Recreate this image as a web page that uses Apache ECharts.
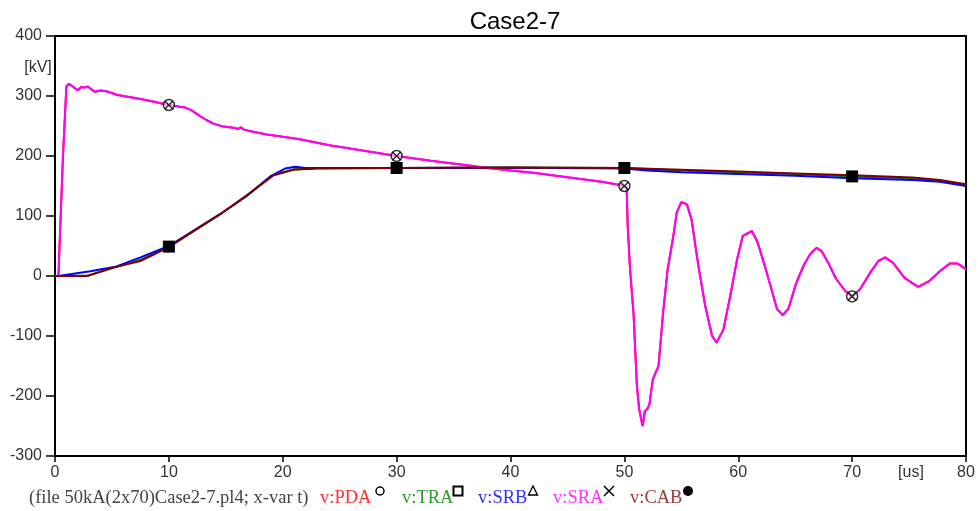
<!DOCTYPE html>
<html><head><meta charset="utf-8">
<script src="https://cdn.jsdelivr.net/npm/echarts@6/dist/echarts.min.js"></script>
<style>html,body{margin:0;padding:0;background:#fff}#c{width:978px;height:511px}</style>
</head><body><div id="c"></div>
<script>
// ---- data (t in us, v in kV) ----
const title = 'Case2-7';
const xTicks = [0, 10, 20, 30, 40, 50, 60, 70, 80];
const yTicks = [-300, -200, -100, 0, 100, 200, 300, 400];

const sra = [
[0,0],[0.3,0],[0.7,200],[1.0,316],[1.2,320],[1.5,317],[1.8,312],[2.0,310],[2.3,315],[2.6,314],[2.9,316],[3.2,311],[3.5,307],[4.0,309],[4.5,308],[5.0,305],[5.4,302],[6.0,300],[6.9,297],[7.5,295],[8.3,292],[9.0,289],[10,285],[11.4,281],[12.0,276],[12.7,267],[13.3,260],[13.9,254],[14.8,249],[15.7,247],[16.1,245],[16.3,248],[16.6,244],[17.5,240],[18.6,236],[20,232],[21.5,228],[24.1,218],[27,209],[30,200],[33,192],[36,185],[38,180],[40,176],[42,172],[44,167],[46,162],[48,157],[49.5,152],[50.0,150],[50.2,148],[50.3,80],[50.5,11],[50.8,-61],[51.1,-183],[51.3,-222],[51.6,-250],[51.8,-225],[52.0,-222],[52.2,-214],[52.5,-172],[53.0,-150],[53.4,-61],[53.8,11],[54.3,67],[54.6,106],[55.0,123],[55.3,121],[55.5,119],[55.9,94],[56.5,17],[57.1,-50],[57.7,-100],[58.1,-111],[58.7,-89],[59.3,-33],[59.9,28],[60.4,67],[61.2,75],[61.7,56],[62.5,6],[63.4,-55],[63.9,-65],[64.4,-55],[65.1,-11],[65.8,20],[66.3,36],[66.6,42],[66.9,47],[67.1,44],[67.3,42],[67.9,22],[68.6,-5],[69.4,-25],[70.0,-34],[70.7,-22],[71.6,6],[72.3,25],[72.9,31],[73.6,22],[74.6,-3],[75.8,-18],[76.8,-8],[77.7,8],[78.6,21],[79.2,21],[79.5,18],[80,11]
];
const pda = sra; // v:PDA coincides with v:SRA (fully hidden behind it)
const tra = [[0,0],[0.3,0],[3,1],[5.2,14],[7.5,27],[10,49],[12.1,74],[14.5,103],[16.8,133],[19,167],[21,178],[23,179.5],[30,180],[40,181],[50,180],[55,176],[60,173],[65,170],[70,166],[75.3,163],[77.7,159],[80,152]];
const srb = [[0,0],[0.3,0],[3.1,8],[5.4,16],[7.5,31],[10,50],[12.1,75],[14.5,103],[16.8,133],[18.9,166],[20.2,179],[21.1,182],[22,180],[23,180],[30,180],[40,180.5],[50,179],[52,176],[55,173],[60,170],[65,167],[70,163],[75.3,160],[77.7,157],[80,150]];
const cab = [[0,0],[0.3,0],[2.8,0],[5.1,14],[7.5,25],[10,48],[12.1,74],[14.5,103],[16.8,134],[19.2,168],[20.9,177],[23,179],[30,180],[40,181],[50,180],[55,177],[60,174],[65,171],[70,168],[75.3,164],[77.7,160],[80,153]];

const sraMarks = [[10,285],[30,200],[50,150],[70,-34]];
const cabMarks = [[10,49],[30,180],[50,180],[70,166]];

const legendItems = [
  {name:'v:PDA', color:'#ff3030'},
  {name:'v:TRA', color:'#2e9a2e'},
  {name:'v:SRB', color:'#3030ff'},
  {name:'v:SRA', color:'#ff30ff'},
  {name:'v:CAB', color:'#9a3a3a'}
];
const fileLabel = '(file 50kA(2x70)Case2-7.pl4; x-var t)';

// ---- chart ----
const chart = echarts.init(document.getElementById('c'));
const lineS = (name, data, color, w) => ({
  type:'line', name, data, showSymbol:false, symbol:'none', animation:false,
  lineStyle:{color, width:w}, itemStyle:{color}, z:2
});
const lx = [320, 402, 478, 553, 630];
const symX = [380, 458, 533, 609, 688];
const serif = '18.5px "Liberation Serif", "Times New Roman", serif';
const graphics = [
  {type:'text', x:38, y:68, style:{text:'[kV]', font:'16px Arial', fill:'#333', align:'center', verticalAlign:'middle'}},
  {type:'text', x:911, y:473, style:{text:'[us]', font:'16px Arial', fill:'#333', align:'center', verticalAlign:'middle'}},
  {type:'text', x:29, y:498, style:{text:fileLabel, font:serif, fill:'#444', verticalAlign:'middle'}}
];
legendItems.forEach((it,i)=>{
  graphics.push({type:'text', x:lx[i], y:498, style:{text:it.name, font:serif, fill:it.color, verticalAlign:'middle'}});
});
const sy = 491;
graphics.push({type:'circle', shape:{cx:symX[0], cy:sy, r:4}, style:{fill:'none', stroke:'#000', lineWidth:1.5}});
graphics.push({type:'rect', shape:{x:symX[1]-4.5, y:sy-4.5, width:9, height:9}, style:{fill:'none', stroke:'#000', lineWidth:2}});
graphics.push({type:'polygon', shape:{points:[[symX[2],sy-5],[symX[2]-4.5,sy+4],[symX[2]+4.5,sy+4]]}, style:{fill:'none', stroke:'#000', lineWidth:1.3}});
graphics.push({type:'polyline', shape:{points:[[symX[3]-5,sy-5],[symX[3]+5,sy+5]]}, style:{stroke:'#000', lineWidth:1.5}});
graphics.push({type:'polyline', shape:{points:[[symX[3]+5,sy-5],[symX[3]-5,sy+5]]}, style:{stroke:'#000', lineWidth:1.5}});
graphics.push({type:'circle', shape:{cx:symX[4], cy:sy, r:5}, style:{fill:'#000'}});

chart.setOption({
  animation:false,
  title:{text:title, left:510, top:5, textAlign:'center', textStyle:{fontFamily:'Arial', fontSize:24, fontWeight:'normal', color:'#000'}},
  grid:{left:55, right:12, top:36, bottom:55, show:true, borderColor:'#000', borderWidth:2, backgroundColor:'#fff'},
  xAxis:{type:'value', min:xTicks[0], max:xTicks[xTicks.length-1], interval:10,
    axisLine:{onZero:false, lineStyle:{color:'#000', width:2}}, axisTick:{show:true, length:6, lineStyle:{color:'#000', width:1.5}},
    axisLabel:{color:'#333', fontFamily:'Arial', fontSize:16, margin:9}, splitLine:{show:false}},
  yAxis:{type:'value', min:yTicks[0], max:yTicks[yTicks.length-1], interval:100,
    axisLine:{show:true, onZero:false, lineStyle:{color:'#000', width:2}}, axisTick:{show:true, length:9, lineStyle:{color:'#000', width:1.5}},
    axisLabel:{color:'#333', fontFamily:'Arial', fontSize:16, margin:13}, splitLine:{show:false}},
  graphic:graphics,
  series:[
    lineS('v:PDA', pda, '#ff0000', 2),
    lineS('v:TRA', tra, '#008000', 2),
    lineS('v:SRB', srb, '#0000ff', 2),
    lineS('v:SRA', sra, '#ff00ff', 2),
    lineS('v:CAB', cab, '#800000', 2),
    {type:'scatter', data:sraMarks, symbol:'circle', symbolSize:11, animation:false, z:5,
      itemStyle:{color:'rgba(255,255,255,0.7)', borderColor:'#000', borderWidth:1.5}},
    {type:'scatter', data:sraMarks, symbol:'path://M0,0L10,10M10,0L0,10', symbolSize:8, animation:false, z:6,
      itemStyle:{color:'none', borderColor:'#000', borderWidth:1.5}},
    {type:'scatter', data:cabMarks, symbol:'rect', symbolSize:12, animation:false, z:5,
      itemStyle:{color:'#000', opacity:1}}
  ]
});
</script></body></html>
